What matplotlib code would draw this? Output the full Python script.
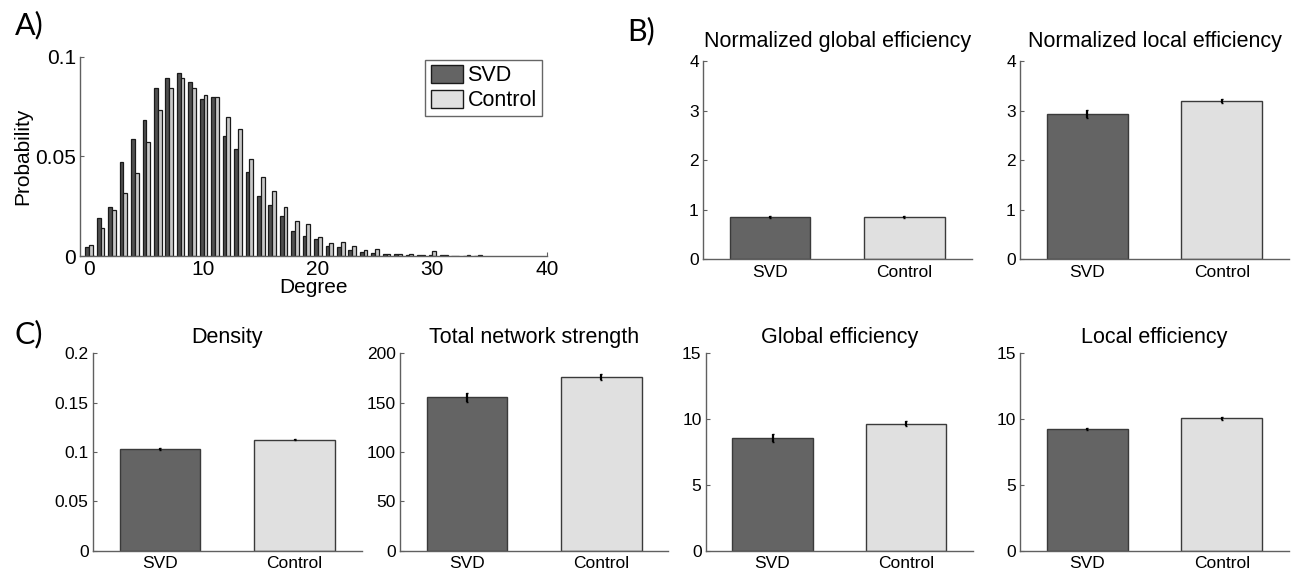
"""Degree distribution and network metrics, SVD vs control."""

import matplotlib

matplotlib.use("Agg")
import matplotlib.pyplot as plt
import numpy as np

# ---- data -------------------------------------------------------------
groups = ["SVD", "Control"]

degrees = np.arange(0, 35)
svd_prob = [0.0043, 0.0189, 0.0247, 0.0470, 0.0587, 0.0684, 0.0841, 0.0893, 0.0918, 0.0873,
            0.0788, 0.0799, 0.0602, 0.0537, 0.0420, 0.0300, 0.0256, 0.0199, 0.0127, 0.0099,
            0.0085, 0.0049, 0.0045, 0.0030, 0.0018, 0.0013, 0.0008, 0.0008, 0.0005, 0.0005,
            0.0003, 0.0003, 0.0002, 0.0002, 0.0001]
control_prob = [0.0057, 0.0142, 0.0229, 0.0314, 0.0416, 0.0574, 0.0732, 0.0841, 0.0893, 0.0844,
                0.0808, 0.0799, 0.0696, 0.0635, 0.0485, 0.0394, 0.0328, 0.0244, 0.0177, 0.0159,
                0.0097, 0.0066, 0.0070, 0.0049, 0.0030, 0.0033, 0.0008, 0.0012, 0.0008, 0.0007,
                0.0027, 0.0005, 0.0002, 0.0003, 0.0003]

norm_global_eff = [0.855, 0.85]
norm_global_err = [0.02, 0.02]
norm_local_eff = [2.93, 3.19]
norm_local_err = [0.09, 0.04]

density = [0.1030, 0.1125]
density_err = [0.0012, 0.0008]
strength = [155.5, 176.3]
strength_err = [4.5, 3.0]
global_eff = [8.56, 9.66]
global_err = [0.28, 0.19]
local_eff = [9.22, 10.05]
local_err = [0.08, 0.14]

# ---- style ------------------------------------------------------------
W, H = 1291, 573
SVD_COLOR = "#646464"
CONTROL_COLOR = "#e0e0e0"
SPINE_COLOR = "#606060"

plt.rcParams["font.family"] = ["Liberation Sans", "DejaVu Sans"]


def px_axes(fig, left, top, right, bottom):
	"""Add axes from pixel edges measured from the top-left corner."""
	return fig.add_axes([left / W, 1 - bottom / H, (right - left) / W, (bottom - top) / H])


def style_axes(axis, tick_size):
	axis.spines["top"].set_visible(False)
	axis.spines["right"].set_visible(False)
	for side in ("left", "bottom"):
		axis.spines[side].set_color(SPINE_COLOR)
		axis.spines[side].set_linewidth(1.0)
	axis.tick_params(direction="in", length=3, width=0.8, color=SPINE_COLOR,
					 labelsize=tick_size, pad=3)


def group_bars(axis, values, errors, ylim, yticks, yticklabels, title, title_pad):
	positions = np.arange(1, len(groups) + 1)
	axis.bar(positions, values, width=0.6, color=[SVD_COLOR, CONTROL_COLOR],
			 edgecolor="#3a3a3a", linewidth=1.0, zorder=2)
	axis.errorbar(positions, values, yerr=errors, fmt="none", ecolor="black",
				  elinewidth=1.6, capsize=1.0, capthick=1.0, zorder=3)
	axis.set_xlim(0.5, 2.5)
	axis.set_ylim(*ylim)
	axis.set_xticks(positions)
	axis.set_xticklabels(groups)
	axis.set_yticks(yticks)
	axis.set_yticklabels(yticklabels)
	style_axes(axis, 12.5)
	axis.tick_params(axis="x", length=0, pad=4)
	axis.set_title(title, fontsize=15.5, pad=title_pad)


fig = plt.figure(figsize=(W / 100, H / 100), dpi=100)

# ---- A: degree distribution -------------------------------------------
ax_a = px_axes(fig, 80, 56.7, 546.7, 256)
bar_w = 0.33
ax_a.bar(degrees - bar_w / 2, svd_prob, width=bar_w, color="#505050",
		 edgecolor="#1a1a1a", linewidth=0.9, zorder=2)
ax_a.bar(degrees + bar_w / 2, control_prob, width=bar_w, color="#c8c8c8",
		 edgecolor="#1a1a1a", linewidth=0.9, zorder=2)
# legend patches use the lighter fills seen in the key
ax_a.bar([0], [0], color=SVD_COLOR, edgecolor="#1a1a1a", linewidth=1.0, label="SVD")
ax_a.bar([0], [0], color=CONTROL_COLOR, edgecolor="#1a1a1a", linewidth=1.0, label="Control")
ax_a.set_xlim(-0.8, 40)
ax_a.set_ylim(0, 0.1)
ax_a.set_xticks([0, 10, 20, 30, 40])
ax_a.set_yticks([0, 0.05, 0.1])
ax_a.set_yticklabels(["0", "0.05", "0.1"])
style_axes(ax_a, 15)
ax_a.set_xlabel("Degree", fontsize=15, labelpad=-1)
ax_a.set_ylabel("Probability", fontsize=15, labelpad=2)
ax_a.legend(loc="upper right", bbox_to_anchor=(0.99, 0.985), borderaxespad=0,
			fontsize=15.5, frameon=True, fancybox=False, edgecolor="#404040",
			handlelength=1.5, handleheight=0.9, handletextpad=0.2,
			borderpad=0.25, labelspacing=0.15)
ax_a.get_legend().get_frame().set_linewidth(1.0)

# ---- B: normalized efficiencies --------------------------------------
ax_b1 = px_axes(fig, 703, 61, 971.5, 259)
group_bars(ax_b1, norm_global_eff, norm_global_err, (0, 4), [0, 1, 2, 3, 4],
		   ["0", "1", "2", "3", "4"], "Normalized global efficiency", 10)
ax_b2 = px_axes(fig, 1020, 61, 1289, 259)
group_bars(ax_b2, norm_local_eff, norm_local_err, (0, 4), [0, 1, 2, 3, 4],
		   ["0", "1", "2", "3", "4"], "Normalized local efficiency", 10)

# ---- C: raw network metrics ------------------------------------------
ax_c1 = px_axes(fig, 92.7, 353.3, 362, 550.7)
group_bars(ax_c1, density, density_err, (0, 0.2), [0, 0.05, 0.1, 0.15, 0.2],
		   ["0", "0.05", "0.1", "0.15", "0.2"], "Density", 7.5)
ax_c2 = px_axes(fig, 400, 353.3, 668.5, 550.7)
group_bars(ax_c2, strength, strength_err, (0, 200), [0, 50, 100, 150, 200],
		   ["0", "50", "100", "150", "200"], "Total network strength", 7.5)
ax_c3 = px_axes(fig, 705.7, 353.3, 973, 550.7)
group_bars(ax_c3, global_eff, global_err, (0, 15), [0, 5, 10, 15],
		   ["0", "5", "10", "15"], "Global efficiency", 7.5)
ax_c4 = px_axes(fig, 1020, 353.3, 1289, 550.7)
group_bars(ax_c4, local_eff, local_err, (0, 15), [0, 5, 10, 15],
		   ["0", "5", "10", "15"], "Local efficiency", 7.5)

# ---- panel letters ----------------------------------------------------
for letter, x_px, y_px in (("A)", 15, 34), ("B)", 627, 40), ("C)", 15, 343)):
	fig.text(x_px / W, 1 - y_px / H, letter, fontsize=22,
			 family=["Lato", "DejaVu Sans"], ha="left", va="baseline")

fig.savefig("out.png", dpi=100)
